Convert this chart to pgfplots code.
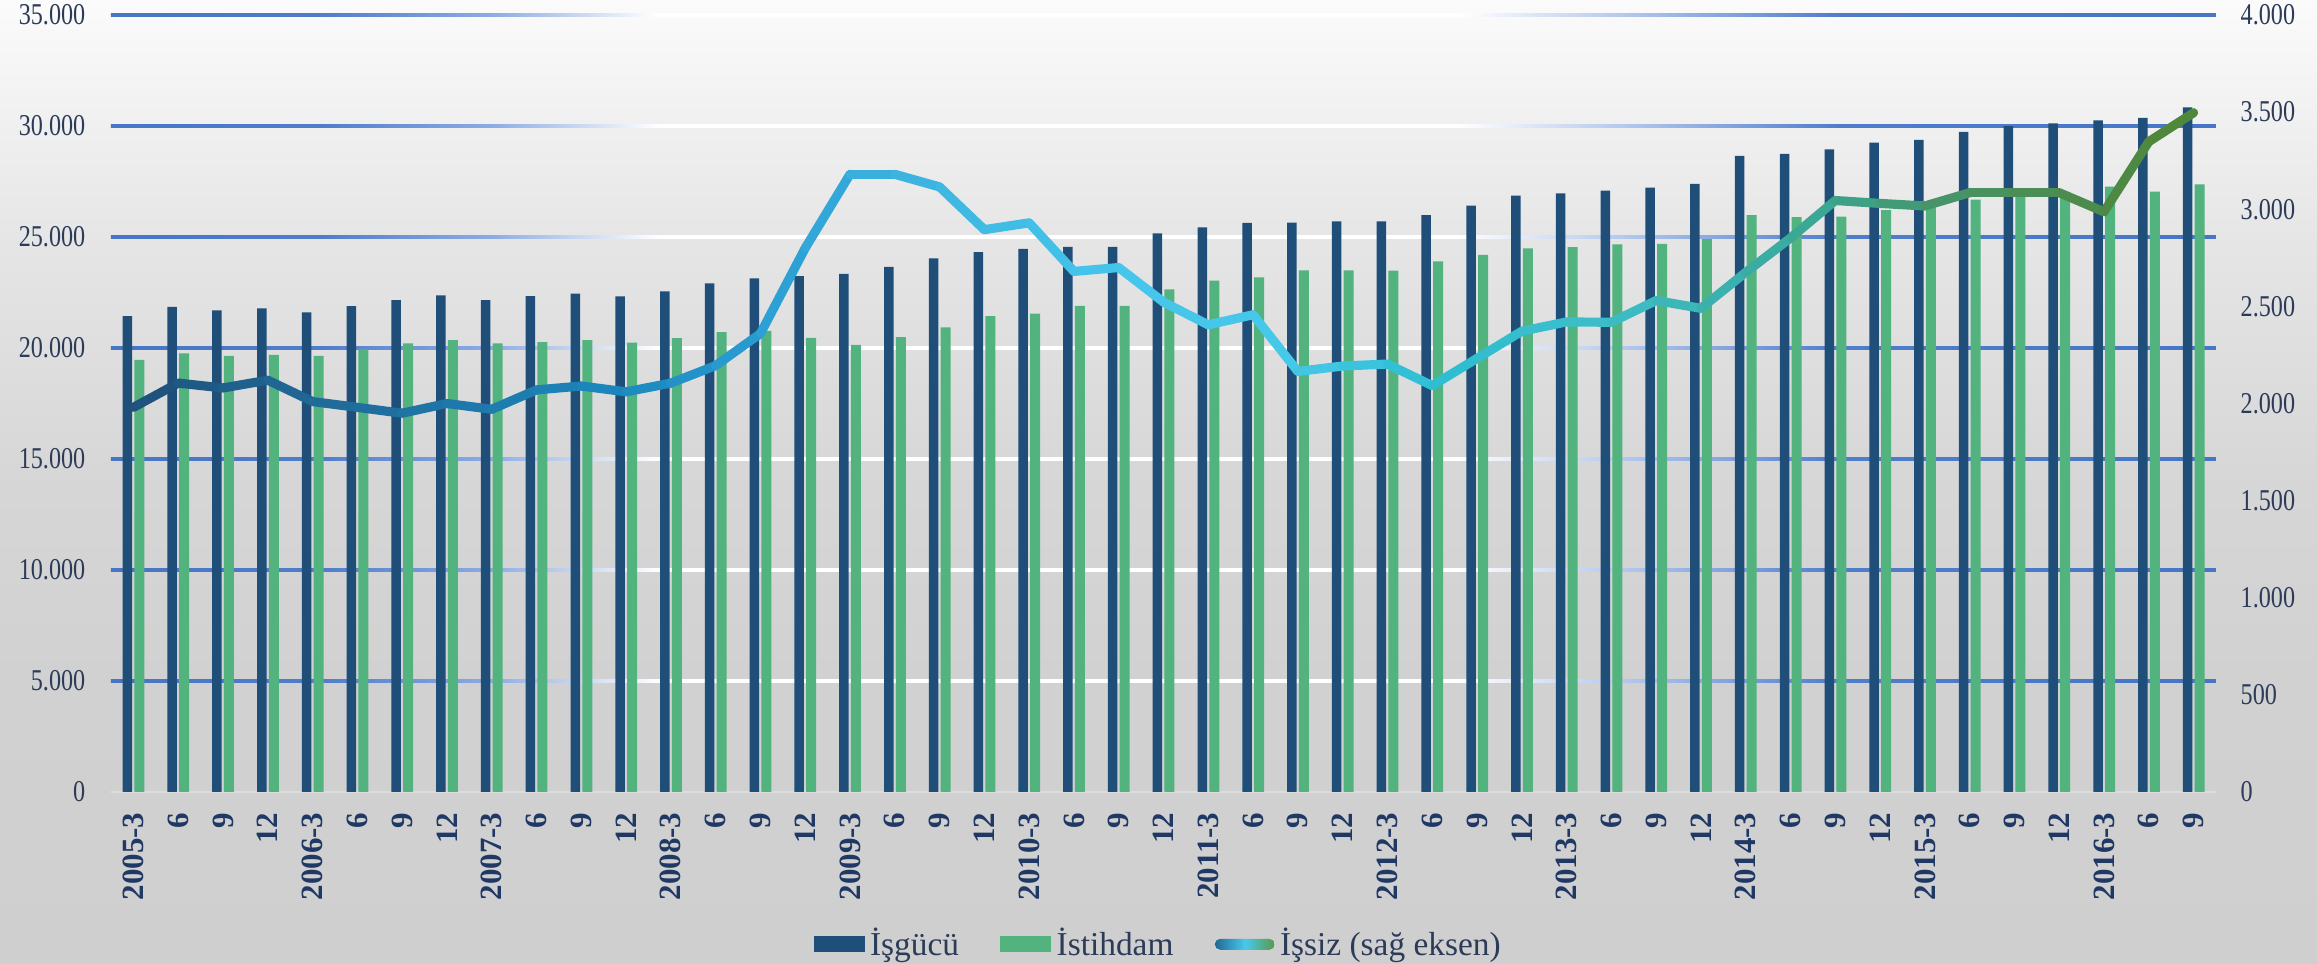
\documentclass[border=0pt]{standalone}
\usepackage{pgfplots}
\usepackage{pgfplotstable}
\pgfplotsset{compat=1.18}
\usepackage{fontspec}
\setmainfont{Liberation Serif}
\newfontfamily\condfont[FakeStretch=0.8]{Liberation Serif}
\definecolor{isgucu}{HTML}{1F4E79}
\definecolor{istihdam}{HTML}{52B37F}
\definecolor{txtcol}{HTML}{2B3B58}
\definecolor{xlabcol}{HTML}{1F3864}
\definecolor{zeroline}{HTML}{DDDDDD}
\definecolor{legleft}{HTML}{1F6A94}
\definecolor{issizcyan}{HTML}{48C8EC}
\definecolor{legright}{HTML}{5A9A48}
\pgfdeclareverticalshading{bgshade}{100bp}{rgb(0bp)=(0.812,0.812,0.812); rgb(25bp)=(0.812,0.812,0.812); rgb(40bp)=(0.82,0.82,0.82); rgb(50bp)=(0.84,0.84,0.84); rgb(62.5bp)=(0.90,0.90,0.90); rgb(75bp)=(0.985,0.985,0.985); rgb(100bp)=(0.985,0.985,0.985)}
\pgfdeclarehorizontalshading{gridshade}{100bp}{rgb(0bp)=(0.28,0.46,0.78); rgb(25bp)=(0.28,0.46,0.78); rgb(30bp)=(0.31,0.49,0.8); rgb(34bp)=(0.55,0.67,0.89); rgb(38bp)=(1,1,1); rgb(57bp)=(1,1,1); rgb(61bp)=(0.7,0.78,0.93); rgb(66bp)=(0.31,0.49,0.8); rgb(75bp)=(0.28,0.46,0.78); rgb(100bp)=(0.28,0.46,0.78)}
\pgfplotsset{colormap={issiz}{rgb255(0cm)=(31,78,121) rgb255(3cm)=(31,100,145) rgb255(7cm)=(30,118,168) rgb255(11cm)=(28,135,190) rgb255(14cm)=(42,158,210) rgb255(17cm)=(60,178,222) rgb255(22cm)=(70,198,236) rgb255(26cm)=(70,200,232) rgb255(29cm)=(45,190,210) rgb255(33cm)=(62,190,200) rgb255(36cm)=(58,175,170) rgb255(38cm)=(58,165,140) rgb255(40cm)=(70,150,110) rgb255(43cm)=(76,140,80) rgb255(46cm)=(80,135,55)}}

\pgfplotstableread{
x isgucu istihdam issiz
0 21440 19460 1980
1 21850 19760 2105
2 21700 19640 2080
3 21790 19690 2120
4 21610 19640 2010
5 21890 19940 1980
6 22160 20210 1950
7 22370 20360 2000
8 22160 20210 1970
9 22340 20270 2070
10 22450 20360 2090
11 22330 20240 2060
12 22550 20440 2105
13 22910 20710 2195
14 23140 20770 2360
15 23240 20460 2800
16 23340 20140 3180
17 23660 20490 3180
18 24040 20930 3115
19 24320 21440 2895
20 24470 21550 2930
21 24560 21900 2680
22 24560 21900 2700
23 25160 22640 2522
24 25430 23030 2405
25 25640 23180 2457
26 25650 23500 2165
27 25700 23500 2193
28 25700 23490 2203
29 25990 23900 2092
30 26410 24190 2232
31 26860 24490 2372
32 26970 24540 2420
33 27090 24670 2418
34 27220 24685 2530
35 27390 24900 2490
36 28660 25980 2675
37 28740 25890 2852
38 28950 25915 3045
39 29250 26210 3030
40 29380 26330 3017
41 29740 26680 3085
42 30000 26920 3085
43 30120 27030 3085
44 30250 27270 2987
45 30370 27040 3348
46 30840 27370 3497
}\data

\begin{document}
\begin{tikzpicture}
\useasboundingbox (0,0) rectangle (23.17,9.64);
\shade[shading=bgshade] (0,0) rectangle (23.17,9.64);
\begin{axis}[
  at={(1.11cm,1.72cm)}, anchor=south west,
  scale only axis, width=21.05cm, height=7.77cm,
  xmin=-0.5, xmax=46.5, ymin=0, ymax=35000,
  axis x line*=bottom, axis y line*=left,
  axis line style={draw=none}, major tick length=0pt,
  xtick={0,...,46},
  xticklabels={2005-3,6,9,12,2006-3,6,9,12,2007-3,6,9,12,2008-3,6,9,12,2009-3,6,9,12,2010-3,6,9,12,2011-3,6,9,12,2012-3,6,9,12,2013-3,6,9,12,2014-3,6,9,12,2015-3,6,9,12,2016-3,6,9},
  xticklabel style={rotate=90, anchor=east, inner sep=0pt, font=\fontsize{8.8}{10}\selectfont\bfseries, text=xlabcol},
  xticklabel shift=0.2cm,
  ytick={0,5000,10000,15000,20000,25000,30000,35000},
  yticklabels={0,5.000,10.000,15.000,20.000,25.000,30.000,35.000},
  yticklabel style={anchor=east, inner sep=0pt, xshift=-0.25cm, font=\condfont\fontsize{8.6}{9}\selectfont, text=txtcol},
  scaled y ticks=false,
  clip=false,
]
\pgfplotsinvokeforeach{5000,10000,15000,20000,25000,30000,35000}{
  \shade[shading=gridshade] ([yshift=-0.012cm]axis cs:-0.5,#1) rectangle ([yshift=0.012cm]axis cs:46.5,#1);
}
\draw[zeroline, line width=0.025cm] (axis cs:-0.5,0) -- (axis cs:46.5,0);
\addplot[ybar, bar width=0.095cm, bar shift=-0.06cm, fill=isgucu, draw=none] table[x=x, y=isgucu]{\data};
\addplot[ybar, bar width=0.10cm, bar shift=0.06cm, fill=istihdam, draw=none] table[x=x, y=istihdam]{\data};
\end{axis}
\begin{axis}[
  at={(1.11cm,1.72cm)}, anchor=south west,
  scale only axis, width=21.05cm, height=7.77cm,
  xmin=-0.5, xmax=46.5, ymin=0, ymax=4000,
  axis x line=none, axis y line*=right,
  axis line style={draw=none}, major tick length=0pt,
  ytick={0,500,1000,1500,2000,2500,3000,3500,4000},
  yticklabels={0,500,1.000,1.500,2.000,2.500,3.000,3.500,4.000},
  yticklabel style={anchor=west, inner sep=0pt, xshift=0.24cm, font=\condfont\fontsize{8.6}{9}\selectfont, text=txtcol},
  scaled y ticks=false,
  clip=false,
  legend style={at={(0.4983,-0.196)}, anchor=center, draw=none, fill=none,
    legend columns=3, font=\fontsize{9.5}{11}\selectfont,
    nodes={text=txtcol, inner xsep=1.5pt, inner ysep=0pt},
    /tikz/every even column/.append style={column sep=0.36cm}},
]
\addlegendimage{legend image code/.code={\fill[isgucu, draw=none] (0cm,-0.08cm) rectangle (0.51cm,0.08cm);}}
\addlegendimage{legend image code/.code={\fill[istihdam, draw=none] (0cm,-0.08cm) rectangle (0.51cm,0.08cm);}}
\addplot[mesh, point meta=x, point meta min=0, point meta max=46, colormap name=issiz,
  line width=2.6pt, line cap=round,
  legend image code/.code={\shade[draw=none, left color=legleft, right color=legright, middle color=issizcyan, rounded corners=0.055cm] (0cm,-0.055cm) rectangle (0.6cm,0.055cm);}]
  table[x=x, y=issiz]{\data};
\legend{İşgücü, İstihdam, İşsiz (sağ eksen)}
\end{axis}
\end{tikzpicture}
\end{document}
